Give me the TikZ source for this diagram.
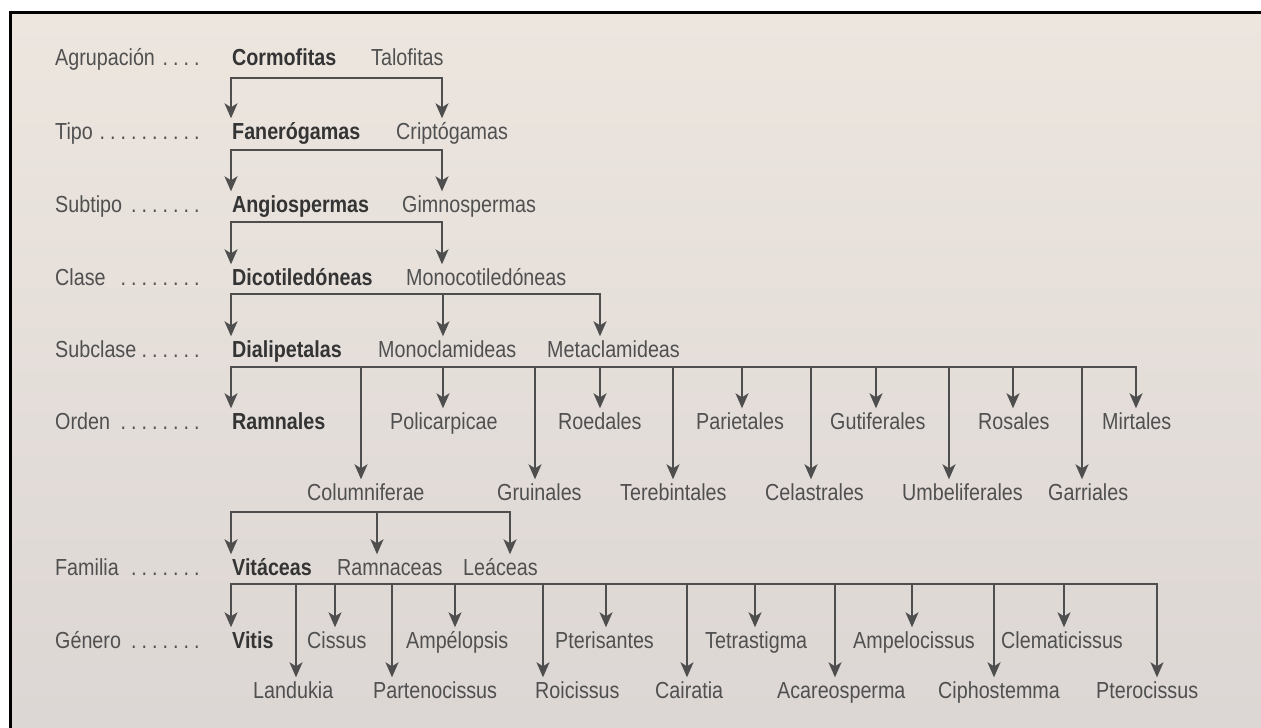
\documentclass[tikz,border=0pt]{standalone}
\usepackage{fontspec}
\setmainfont{Liberation Sans}[FakeStretch=0.85]
\usetikzlibrary{arrows.meta}

\definecolor{bgtop}{HTML}{EDE6DF}
\definecolor{bgbot}{HTML}{DCD6D4}
\definecolor{ink}{HTML}{505050}
\definecolor{inkdark}{HTML}{343434}
\definecolor{wire}{HTML}{4E4E4E}

% rank name followed by a dotted leader up to a fixed width
\newcommand\rankname[1]{\makebox[148pt][l]{#1\leaders\hbox to 10.5pt{\hss.\hss}\hfill}}

\tikzset{
  every node/.style={inner sep=0pt, text height=16pt, text depth=4.5pt,
    anchor=base west, font=\fontsize{23.2}{28}\selectfont},
  rank/.style={text=ink},
  taxon/.style={text=ink},
  main/.style={text=inkdark, font=\fontsize{23.2}{28}\selectfont\bfseries},
  bar/.style={draw=wire, line width=1.7pt, line cap=rect},
  arr/.style={draw=wire, line width=1.7pt,
    -{Stealth[length=15pt,width=13pt,inset=4pt]}, shorten >=4.5pt},
}

\begin{document}
\begin{tikzpicture}[x=1pt, y=-1pt]
\useasboundingbox (0,0) rectangle (1261,728);
\fill[white] (0,0) rectangle (1261,728);
% paper, slightly warmer at the top
\shade[top color=bgtop, bottom color=bgbot] (10.5,12.5) rectangle (1261,728);
\draw[black, line width=2.5pt] (10.5,728) -- (10.5,12.5) -- (1261,12.5);

% rank column
\node[rank] (rAgr) at (55,65)  {\rankname{Agrupación}};
\node[rank] (rTip) at (55,139) {\rankname{Tipo}};
\node[rank] (rSub) at (55,212) {\rankname{Subtipo}};
\node[rank] (rCla) at (55,285) {\rankname{Clase }};
\node[rank] (rSbc) at (55,357) {\rankname{Subclase}};
\node[rank] (rOrd) at (55,429) {\rankname{Orden }};
\node[rank] (rFam) at (55,575) {\rankname{Familia }};
\node[rank] (rGen) at (55,648) {\rankname{Género }};

% Agrupación
\node[main]  (cormofitas) at (232,65) {Cormofitas};
\node[taxon] (talofitas)  at (371,65) {Talofitas};
% Tipo
\node[main]  (fanerogamas) at (232,139) {Fanerógamas};
\node[taxon] (criptogamas) at (396,139) {Criptógamas};
% Subtipo
\node[main]  (angiospermas) at (232,212) {Angiospermas};
\node[taxon] (gimnospermas) at (402,212) {Gimnospermas};
% Clase
\node[main]  (dicot)   at (232,285) {Dicotiledóneas};
\node[taxon] (monocot) at (406,285) {Monocotiledóneas};
% Subclase
\node[main]  (dialip)  at (232,357) {Dialipetalas};
\node[taxon] (monocl)  at (378,357) {Monoclamideas};
\node[taxon] (metacl)  at (547,357) {Metaclamideas};
% Orden
\node[main]  (ramnales)  at (232,429) {Ramnales};
\node[taxon] (policarp)  at (390,429) {Policarpicae};
\node[taxon] (roedales)  at (558,429) {Roedales};
\node[taxon] (parietal)  at (696,429) {Parietales};
\node[taxon] (gutifer)   at (830,429) {Gutiferales};
\node[taxon] (rosales)   at (978,429) {Rosales};
\node[taxon] (mirtales)  at (1102,429) {Mirtales};
\node[taxon] (columnif)  at (307,500) {Columniferae};
\node[taxon] (gruinal)   at (497,500) {Gruinales};
\node[taxon] (terebint)  at (620,500) {Terebintales};
\node[taxon] (celastr)   at (765,500) {Celastrales};
\node[taxon] (umbelif)   at (902,500) {Umbeliferales};
\node[taxon] (garrial)   at (1048,500) {Garriales};
% Familia
\node[main]  (vitaceas)  at (232,575) {Vitáceas};
\node[taxon] (ramnaceas) at (337,575) {Ramnaceas};
\node[taxon] (leaceas)   at (463,575) {Leáceas};
% Género
\node[main]  (vitis)     at (232,648) {Vitis};
\node[taxon] (cissus)    at (307,648) {Cissus};
\node[taxon] (ampelop)   at (406,648) {Ampélopsis};
\node[taxon] (pterisan)  at (555,648) {Pterisantes};
\node[taxon] (tetrast)   at (705,648) {Tetrastigma};
\node[taxon] (ampeloc)   at (853,648) {Ampelocissus};
\node[taxon] (clemat)    at (1001,648) {Clematicissus};
\node[taxon] (landuk)    at (253,698) {Landukia};
\node[taxon] (partenoc)  at (373,698) {Partenocissus};
\node[taxon] (roicis)    at (535,698) {Roicissus};
\node[taxon] (cairat)    at (655,698) {Cairatia};
\node[taxon] (acareo)    at (777,698) {Acareosperma};
\node[taxon] (ciphost)   at (938,698) {Ciphostemma};
\node[taxon] (pteroc)    at (1096,698) {Pterocissus};

% branching bars: junction points on each bar, then a drop to each child
\foreach \y/\list/\first/\last in {
    78/{231/fanerogamas,442/criptogamas}/fanerogamas/criptogamas,
    150/{231/angiospermas,442/gimnospermas}/angiospermas/gimnospermas,
    222/{231/dicot,442/monocot}/dicot/monocot,
    294/{231/dialip,443/monocl,600/metacl}/dialip/metacl,
    367/{231/ramnales,361/columnif,443/policarp,535/gruinal,600/roedales,673/terebint,742/parietal,811/celastr,876/gutifer,949/umbelif,1013/rosales,1082/garrial,1136/mirtales}/ramnales/mirtales,
    512/{231/vitaceas,377/ramnaceas,510/leaceas}/vitaceas/leaceas,
    584/{231/vitis,296/landuk,335/cissus,392/partenoc,455/ampelop,543/roicis,606/pterisan,687/cairat,755/tetrast,835/acareo,912/ampeloc,994/ciphost,1064/clemat,1157/pteroc}/vitis/pteroc%
  }{
  \foreach \x/\n in \list {
    \coordinate (j-\n) at (\x,\y);
    \draw[arr] (j-\n) -- (j-\n |- \n.north);
  }
  \draw[bar] (j-\first) -- (j-\last);
}
\end{tikzpicture}
\end{document}
